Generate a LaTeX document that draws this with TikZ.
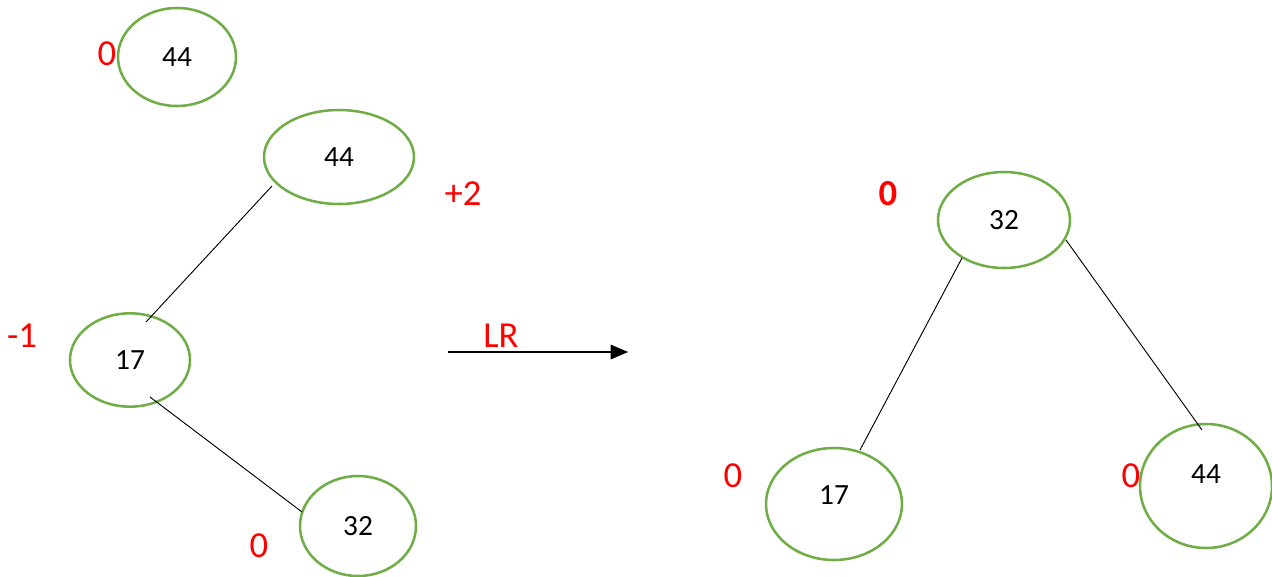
\documentclass[tikz,border=0pt]{standalone}
\usepackage{fontspec}
\setmainfont{Carlito}
\usepackage{tikz}
\usetikzlibrary{arrows.meta,shapes.geometric,calc}

\definecolor{nodegreen}{HTML}{70AD47}

\begin{document}
\begin{tikzpicture}
    [
      x=0.75pt,y=-0.75pt,
      avl/.style={ellipse,draw=nodegreen,line width=1.9pt,inner sep=0pt,
        font=\fontsize{22}{24}\selectfont},
      bal/.style={text=red,inner sep=0pt,font=\fontsize{27.5}{30}\selectfont},
      link/.style={black,line width=0.7pt},
      rot/.style={-{Triangle[length=13pt,width=11pt]},black,line width=0.8pt},
    ]
    \useasboundingbox (0,0) rectangle (1272,576);

    % before rotation
    \node (a44) [avl,minimum width=88.5pt,minimum height=73.5pt] at (177,57) {44};
    \node (b44) [avl,minimum width=112.5pt,minimum height=70.5pt] at (339,157) {44};
    \node (b17) [avl,minimum width=90pt,minimum height=70pt] at (130,360) {17};
    \node (b32) [avl,minimum width=87pt,minimum height=75pt] at (358,526) {32};

    \node (a44-bf) [bal] at (107,54) {0};
    \node (b44-bf) [bal] at (463,194) {+2};
    \node (b17-bf) [bal] at (22,336) {-1};
    \node (b32-bf) [bal] at (259,546) {0};

    \draw [link] ($(b44)+(-67,29)$) -- ($(b17)+(16,-38)$);
    \draw [link] ($(b17)+(20,37)$) -- ($(b32)+(-56,-14)$);

    % rotation arrow
    \coordinate (lr-from) at (448,352);
    \coordinate (lr-to) at (628,352);
    \draw [rot] (lr-from) -- (lr-to);
    \node (lr) [bal] at (501,336) {LR};

    % after rotation
    \node (r32) [avl,minimum width=99pt,minimum height=72pt] at (1004,220) {32};
    \node (r17) [avl,minimum width=102pt,minimum height=84pt,text depth=14pt] at (834,504) {17};
    \node (r44) [avl,minimum width=99pt,minimum height=93pt,text depth=18pt] at (1206,486) {44};

    \node (r32-bf) [bal,font=\fontsize{27.5}{30}\selectfont\bfseries] at (888,194) {0};
    \node (r17-bf) [bal] at (733,476) {0};
    \node (r44-bf) [bal] at (1131,476) {0};

    \draw [link] ($(r32)+(-42,38)$) -- ($(r17)+(26,-54)$);
    \draw [link] ($(r32)+(62,20)$) -- ($(r44)+(-4,-56)$);

  \end{tikzpicture}
\end{document}
